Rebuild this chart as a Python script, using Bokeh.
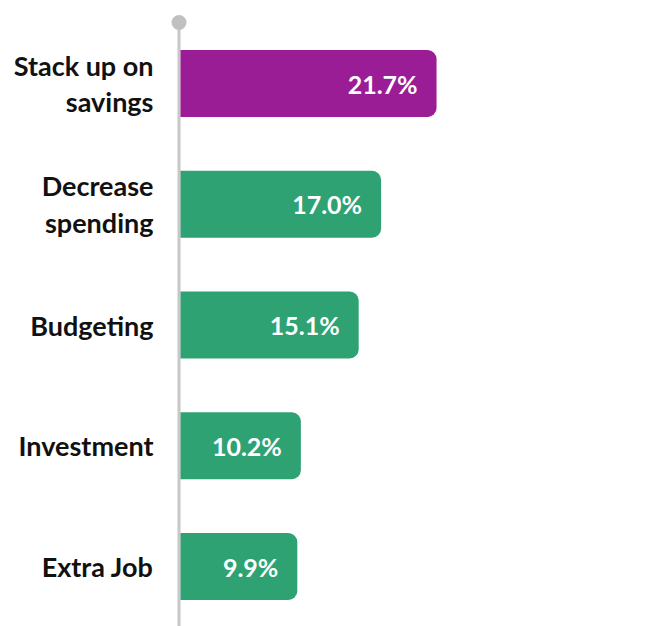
from bokeh.plotting import figure
from bokeh.models import Range1d, ColumnDataSource
from bokeh.core.properties import value
from bokeh.embed import file_html
from bokeh.resources import INLINE

categories = ["Stack up on\nsavings", "Decrease\nspending", "Budgeting", "Investment", "Extra Job"]
values = [21.7, 17.0, 15.1, 10.2, 9.9]
colors = ["#9b1d96", "#2fa273", "#2fa273", "#2fa273", "#2fa273"]
value_labels = [f"{v:.1f}%" for v in values]
positions = list(range(len(categories)))

W, H = 641, 626
X0 = 180.0      # pixel of zero
PX_PER = 11.8   # pixels per percent
Y0 = 83.0       # pixel of first row centre
ROW = 120.75    # pixels per row

p = figure(width=W, height=H, output_backend="svg", toolbar_location=None,
           x_range=Range1d(-X0 / PX_PER, (W - X0) / PX_PER),
           y_range=Range1d((H - Y0) / ROW, -Y0 / ROW),
           x_axis_location=None, y_axis_location=None, min_border=0)
p.grid.visible = False
p.outline_line_color = None
p.background_fill_color = "white"
p.border_fill_color = "white"

src = ColumnDataSource(dict(y=positions, v=values, c=colors, lab=value_labels, cat=categories))

# axis line and dot
ax_x = -1.5 / PX_PER
p.segment(x0=[ax_x], y0=[(22 - Y0) / ROW], x1=[ax_x], y1=[(H + 20 - Y0) / ROW],
          line_color="#c8c8c8", line_width=3)
p.scatter(x=[ax_x], y=[(22 - Y0) / ROW], size=15, fill_color="#c0c0c0", line_color=None)

p.hbar(y="y", left=0, right="v", height=67 / ROW, fill_color="c", line_color=None,
       border_radius=(0, 9, 9, 0), source=src)

p.text(x="v", y="y", text="lab", source=src, x_offset=-19, text_align="right",
       text_baseline="middle", text_color="white", text_font=value("Lato"),
       text_font_style="bold", text_font_size="25px")

p.text(x=0, y="y", text="cat", source=src, x_offset=-27, text_align="right",
       text_baseline="middle", text_color="#111111", text_font=value("Lato"),
       text_font_style="bold", text_font_size="27px", text_line_height=1.12)

open("out.html", "w").write(file_html(p, INLINE))
